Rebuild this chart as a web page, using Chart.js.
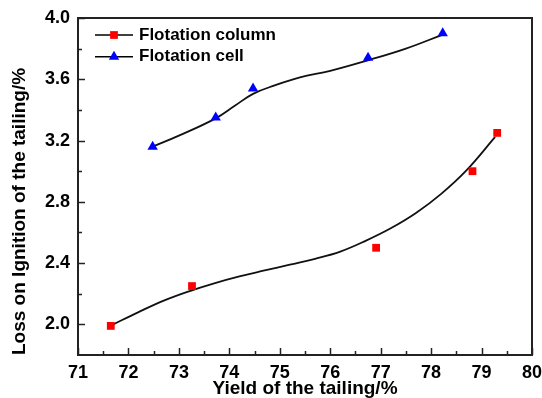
<!DOCTYPE html>
<html>
<head>
<meta charset="utf-8">
<script src="https://cdn.jsdelivr.net/npm/chart.js@4/dist/chart.umd.min.js"></script>
<style>
  html, body { margin: 0; padding: 0; background: #fff; }
  canvas { display: block; }
</style>
</head>
<body>
<canvas id="chart" width="542" height="398"></canvas>
<script>
// axis ticks
const xTicks = [71, 72, 73, 74, 75, 76, 77, 78, 79, 80];
const yTicks = [2.0, 2.4, 2.8, 3.2, 3.6, 4.0];
const seriesNames = ['Flotation column', 'Flotation cell'];

// measured points
const columnYield = [71.65, 73.26, 76.91, 78.82, 79.31];
const columnLoss = [1.99, 2.25, 2.50, 3.00, 3.25];
const cellYield = [72.48, 73.73, 74.47, 76.75, 78.23];
const cellLoss = [3.16, 3.35, 3.54, 3.74, 3.90];

// fitted curves
const columnFitYield = [71.67, 72.2, 72.7, 73.2, 73.7, 74.2, 74.7, 75.2, 75.7, 76.2, 76.7, 77.2, 77.7, 78.2, 78.7, 79.27];
const columnFitLoss = [1.995, 2.080, 2.155, 2.216, 2.268, 2.313, 2.352, 2.390, 2.428, 2.475, 2.545, 2.627, 2.727, 2.852, 3.005, 3.224];
const cellFitYield = [72.48, 73.0, 73.73, 74.1, 74.47, 74.9, 75.4, 76.0, 76.73, 77.5, 78.22];
const cellFitLoss = [3.160, 3.232, 3.345, 3.425, 3.505, 3.560, 3.612, 3.655, 3.722, 3.800, 3.890];

const FONT = '"Liberation Sans", Arial, sans-serif';
const pts = (xs, ys) => xs.map((v, i) => ({ x: v, y: ys[i] }));

const markers = [
  { style: 'rect', color: '#ff0000', radius: 5.5 },
  { style: 'triangle', color: '#0000ff', radius: 6 }
];

// frame, inward ticks and the legend
const decorations = {
  id: 'decorations',
  afterDraw(chart) {
    const { ctx, chartArea: a, scales: { x, y } } = chart;
    ctx.save();
    ctx.strokeStyle = '#222';
    ctx.lineWidth = 2;
    ctx.strokeRect(a.left, a.top, a.right - a.left, a.bottom - a.top);

    ctx.lineWidth = 1.5;
    ctx.beginPath();
    xTicks.forEach((v, i) => {
      const px = Math.round(x.getPixelForValue(v)) + 0.5;
      ctx.moveTo(px, a.bottom);
      ctx.lineTo(px, a.bottom - 7);
      if (i < xTicks.length - 1) {
        const mx = Math.round(x.getPixelForValue((v + xTicks[i + 1]) / 2)) + 0.5;
        ctx.moveTo(mx, a.bottom);
        ctx.lineTo(mx, a.bottom - 4);
      }
    });
    yTicks.forEach((v, i) => {
      const py = Math.round(y.getPixelForValue(v)) + 0.5;
      ctx.moveTo(a.left, py);
      ctx.lineTo(a.left + 7, py);
      if (i < yTicks.length - 1) {
        const my = Math.round(y.getPixelForValue((v + yTicks[i + 1]) / 2)) + 0.5;
        ctx.moveTo(a.left, my);
        ctx.lineTo(a.left + 4, my);
      }
    });
    ctx.stroke();

    // legend: line - marker - line, then the name
    ctx.font = 'bold 17px ' + FONT;
    ctx.textBaseline = 'middle';
    seriesNames.forEach((name, i) => {
      const ly = a.top + 17 + i * 21.7;
      ctx.strokeStyle = '#000';
      ctx.lineWidth = 1.5;
      ctx.beginPath();
      ctx.moveTo(a.left + 17, ly);
      ctx.lineTo(a.left + 55, ly);
      ctx.stroke();
      ctx.fillStyle = markers[i].color;
      Chart.helpers.drawPoint(ctx, {
        pointStyle: markers[i].style, radius: markers[i].radius, rotation: 0, borderWidth: 0
      }, a.left + 36, ly);
      ctx.fillStyle = '#000';
      ctx.fillText(name, a.left + 61, ly);
    });
    ctx.restore();
  }
};

new Chart(document.getElementById('chart'), {
  type: 'scatter',
  data: {
    datasets: [
      {
        label: seriesNames[0],
        data: pts(columnYield, columnLoss),
        pointStyle: 'rect',
        pointRadius: 5.5,
        pointBackgroundColor: '#ff0000',
        pointBorderWidth: 0,
        showLine: false,
        order: 0
      },
      {
        label: seriesNames[1],
        data: pts(cellYield, cellLoss),
        pointStyle: 'triangle',
        pointRadius: 6,
        pointBackgroundColor: '#0000ff',
        pointBorderWidth: 0,
        showLine: false,
        order: 0
      },
      {
        label: 'column fit',
        data: pts(columnFitYield, columnFitLoss),
        showLine: true,
        pointRadius: 0,
        borderColor: '#111',
        borderWidth: 1.8,
        tension: 0.4,
        order: 1
      },
      {
        label: 'cell fit',
        data: pts(cellFitYield, cellFitLoss),
        showLine: true,
        pointRadius: 0,
        borderColor: '#111',
        borderWidth: 1.8,
        tension: 0.4,
        order: 1
      }
    ]
  },
  options: {
    responsive: false,
    animation: false,
    layout: { padding: { top: 18, right: 10, left: 0, bottom: 0 } },
    plugins: { legend: { display: false }, tooltip: { enabled: false } },
    scales: {
      x: {
        type: 'linear',
        min: 71,
        max: 80,
        afterBuildTicks: s => { s.ticks = xTicks.map(v => ({ value: v })); },
        afterFit: s => { s.height = 43; s.paddingLeft = 0; s.paddingRight = 0; },
        grid: { display: false, drawTicks: false },
        border: { display: false },
        ticks: { color: '#000', font: { family: FONT, size: 18, weight: 'bold' }, padding: 7 },
        title: {
          display: true,
          text: 'Yield of the tailing/%',
          color: '#000',
          font: { family: FONT, size: 19, weight: 'bold', lineHeight: 1.0 },
          padding: 0
        }
      },
      y: {
        type: 'linear',
        min: 1.8,
        max: 4.0,
        afterBuildTicks: s => { s.ticks = yTicks.map(v => ({ value: v })); },
        afterFit: s => { s.width = 78; s.paddingTop = 0; s.paddingBottom = 0; },
        grid: { display: false, drawTicks: false },
        border: { display: false },
        ticks: {
          color: '#000',
          font: { family: FONT, size: 18, weight: 'bold' },
          padding: 8,
          callback: v => Number(v).toFixed(1)
        },
        title: {
          display: true,
          text: 'Loss on Ignition of the tailing/%',
          align: 'start',
          color: '#000',
          font: { family: FONT, size: 19, weight: 'bold' },
          padding: { top: 8 }
        }
      }
    }
  },
  plugins: [decorations]
});
</script>
</body>
</html>
